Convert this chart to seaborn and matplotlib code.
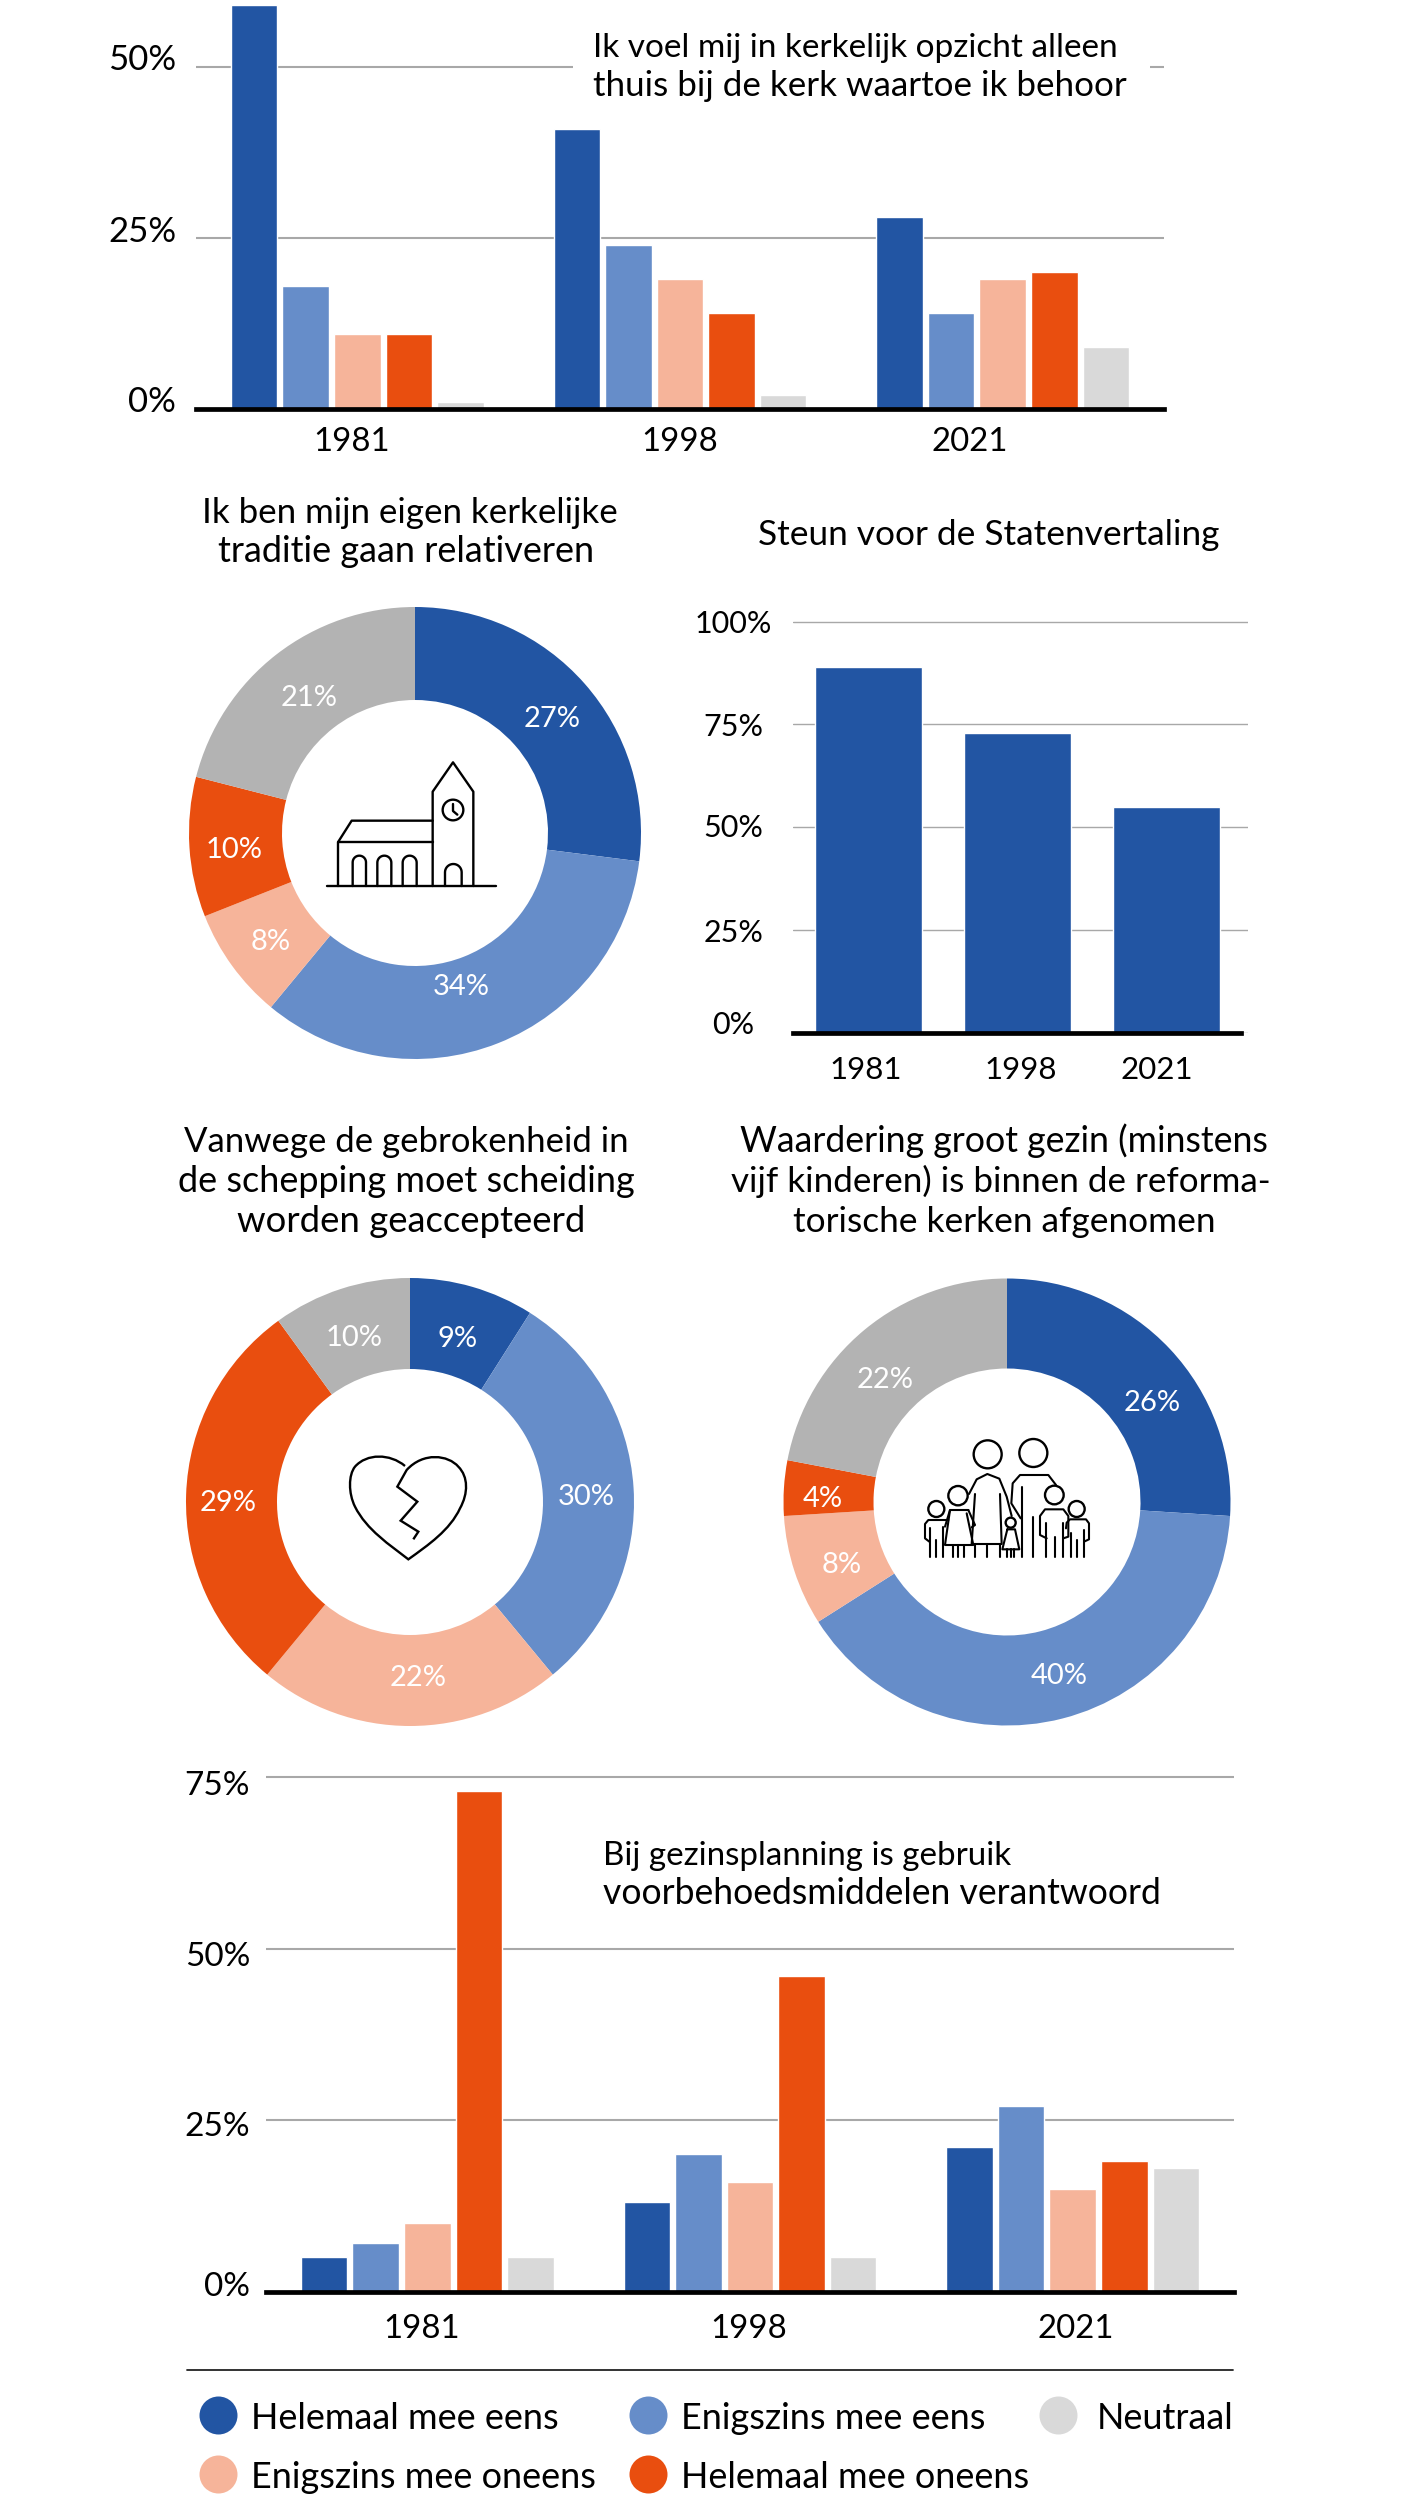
import numpy as np
import pandas as pd
import seaborn as sns
import matplotlib
matplotlib.use("Agg")
import matplotlib.pyplot as plt
from matplotlib.patches import Circle, PathPatch, Rectangle
from matplotlib.path import Path
from matplotlib.transforms import Affine2D

# data
years = ["1981", "1998", "2021"]
answers = ["Helemaal mee eens", "Enigszins mee eens", "Enigszins mee oneens",
           "Helemaal mee oneens", "Neutraal"]
thuis_1981 = [59, 18, 11, 11, 1]
thuis_1998 = [41, 24, 19, 14, 2]
thuis_2021 = [28, 14, 19, 20, 9]
plan_1981 = [5, 7, 10, 73, 5]
plan_1998 = [13, 20, 16, 46, 5]
plan_2021 = [21, 27, 15, 19, 18]
staten = [89, 73, 55]
traditie = [27, 34, 8, 10, 21]
scheiding = [9, 30, 22, 29, 10]
gezin = [26, 40, 8, 4, 22]

BLUE = "#2255A3"
LIGHT = "#668DC9"
PEACH = "#F6B49A"
ORANGE = "#E94E0F"
NEUTRAL = "#D9D9D9"
DONUT_GREY = "#B3B3B3"
GRID = "#A8A8A8"
bar_colors = [BLUE, LIGHT, PEACH, ORANGE, NEUTRAL]
donut_colors = [BLUE, LIGHT, PEACH, ORANGE, DONUT_GREY]

W, H = 1424, 2500
FS = 25.4
sns.set_theme(style="white")
plt.rcParams["font.family"] = ["Lato", "DejaVu Sans"]
fig = plt.figure(figsize=(W / 100, H / 100), dpi=100, facecolor="white")


def px_axes(left, top, right, bottom, **kw):
    return fig.add_axes([left / W, 1 - bottom / H, (right - left) / W, (bottom - top) / H], **kw)


def nudge(label, dx, dy):
    # move a tick label by pixels, y counted downward like in the picture
    label.set_transform(label.get_transform() + Affine2D().translate(dx, -dy))


def style_bar_axes(ax, ticks, tick_pad, x_pad, x_nudge, y_nudge, grid_lw, x_size, y_size):
    ax.set_xlabel("")
    ax.set_ylabel("")
    ax.set_yticks(ticks, [f"{t}%" for t in ticks])
    ax.set_axisbelow(True)
    ax.grid(axis="y", color=GRID, lw=grid_lw)
    ax.grid(axis="x", visible=False)
    for s in ["left", "right", "top"]:
        ax.spines[s].set_visible(False)
    ax.spines["bottom"].set_color("black")
    ax.spines["bottom"].set_linewidth(3.4)
    ax.tick_params(axis="both", length=0, labelcolor="black")
    ax.tick_params(axis="y", pad=tick_pad, labelsize=y_size)
    ax.tick_params(axis="x", pad=x_pad, labelsize=x_size)
    for lab, dx in zip(ax.get_xticklabels(), x_nudge):
        lab.set_va("center")
        nudge(lab, dx, 0)
    for lab, dy in zip(ax.get_yticklabels(), y_nudge):
        nudge(lab, 0, dy)


def grouped_bars(series, left, right, y0, unit, ymax, ticks, tick_pad, x_pad, x_nudge, y_nudge, y_size):
    ax = px_axes(left, y0 - unit * ymax, right, y0)
    df = pd.DataFrame({
        "jaar": np.repeat(years, len(answers)),
        "antwoord": answers * len(years),
        "pct": np.concatenate(series),
    })
    sns.barplot(data=df, x="jaar", y="pct", hue="antwoord", hue_order=answers,
                palette=bar_colors, saturation=1, width=0.8, gap=0.1, legend=False, ax=ax)
    ax.set_xlim(-0.5, 2.5)
    ax.set_ylim(0, ymax)
    style_bar_axes(ax, ticks, tick_pad, x_pad, x_nudge, y_nudge, 1.5, 23.8, y_size)
    return ax


def donut(values, cx, cy, r_out, r_in, offsets):
    pad = 1.02
    ax = px_axes(cx - r_out * pad, cy - r_out * pad, cx + r_out * pad, cy + r_out * pad)
    width = (r_out - r_in) / r_out
    wedges, _, autotexts = ax.pie(
        values, colors=donut_colors, startangle=90, counterclock=False, radius=1,
        wedgeprops=dict(width=width, edgecolor="none"),
        autopct=lambda p: f"{p:.0f}%", pctdistance=1 - width / 2,
        textprops=dict(color="white", fontsize=21))
    ax.set_xlim(-pad, pad)
    ax.set_ylim(-pad, pad)
    for txt, (dx, dy) in zip(autotexts, offsets):
        x, y = txt.get_position()
        txt.set_position((x + dx / r_out, y - (dy + 3) / r_out))
    return ax


# top chart
grouped_bars([thuis_1981, thuis_1998, thuis_2021], 196, 1164, 409, 6.84, 59.7,
             [0, 25, 50], 14.4, 24, [-5.5, -0.5, -33], [-10, -9, -10], 25)

# Statenvertaling
ax = px_axes(793, 1033 - 4.115 * 102, 1247.5, 1033)
sns.barplot(x=years, y=staten, color=BLUE, saturation=1, width=0.72, ax=ax)
ax.set_xlim((793 - 868.5) / 149, (1247.5 - 868.5) / 149)
ax.set_ylim(0, 102)
style_bar_axes(ax, [0, 25, 50, 75, 100], 43, 26.4, [-3, 3, -9.5], [-11, 0, -2, 0, 0], 1.0, 22.5, 22)
ax.spines["bottom"].set_bounds(ax.get_xlim()[0], (1241 - 868.5) / 149)
for lab in ax.get_yticklabels():
    lab.set_ha("center")

# donuts
donut(traditie, 415, 833, 226, 133, [(2, 2), (-20, -16), (1, 0), (-2, 3), (4, 4)])
donut(scheiding, 410, 1502, 224, 133, [(-2, 5), (-2, 3), (8, -5), (-3, 4), (-1, 3)])
donut(gezin, 1007, 1502, 223.5, 133.5, [(15, 20), (8, -2), (4, 5), (-6, 5), (-8, 13)])

# bottom chart
grouped_bars([plan_1981, plan_1998, plan_2021], 266, 1234, 2291.5, 6.86, 76,
             [0, 25, 50, 75], 11.5, 27, [-6, -1.5, 3], [-7, 4, 6, 6], 24)

# everything else goes on a transparent layer that is counted in picture pixels
top = fig.add_axes([0, 0, 1, 1], zorder=10)
top.set_xlim(0, W)
top.set_ylim(H, 0)
top.axis("off")
top.patch.set_alpha(0)

top.add_patch(Rectangle((573, 40), 577, 60, color="white", lw=0))


def title(x, y, txt, ha="center", size=FS):
    top.text(x, y, txt, ha=ha, va="baseline", fontsize=size, color="black")


title(593, 57, "Ik voel mij in kerkelijk opzicht alleen", "left", 24)
title(593, 96, "thuis bij de kerk waartoe ik behoor", "left", 25.2)
title(410, 523, "Ik ben mijn eigen kerkelijke", size=25.1)
title(406, 562, "traditie gaan relativeren", size=25.9)
title(989, 545, "Steun voor de Statenvertaling")
title(406, 1152, "Vanwege de gebrokenheid in", size=25)
title(406, 1192, "de schepping moet scheiding", size=25.9)
title(411, 1232, "worden geaccepteerd", size=26.3)
title(1004, 1152, "Waardering groot gezin (minstens", size=25.7)
title(1001, 1192, "vijf kinderen) is binnen de reforma-", size=25.2)
title(1004, 1232, "torische kerken afgenomen", size=25.4)
title(603, 1865, "Bij gezinsplanning is gebruik", "left", 23.9)
title(603, 1904, "voorbehoedsmiddelen verantwoord", "left", 25.6)

# legend
top.plot([187, 1233], [2370, 2370], color="#222222", lw=1.3)
legend_x = [218, 648, 1058, 218, 648]
legend_y = [2415, 2415, 2415, 2474, 2474]
legend_order = [0, 1, 4, 2, 3]
for x, y, i in zip(legend_x, legend_y, legend_order):
    top.scatter([x], [y], s=(38 * 0.72) ** 2, color=bar_colors[i], lw=0)
    tx = 1097 if i == 4 else x + 33
    top.text(tx, y + 14, answers[i], fontsize=25.9, va="baseline", color="black")


# icons
def poly(pts, org, lw=1.7):
    xs = [org[0] + p[0] / 3 for p in pts]
    ys = [org[1] + p[1] / 3 for p in pts]
    top.plot(xs, ys, color="black", lw=lw, solid_capstyle="round", solid_joinstyle="round")


def ring(x, y, r, org, lw=1.7):
    top.add_patch(Circle((org[0] + x / 3, org[1] + y / 3), r / 3, fill=False, ec="black", lw=lw))


def arch(x0, x1, ytop, ybase, org):
    m = (x0 + x1) / 2
    rad = (x1 - x0) / 2
    t = np.linspace(np.pi, 0, 20)
    xs = m + rad * np.cos(t)
    ys = ytop + rad - rad * np.sin(t)
    poly([(x0, ybase)] + list(zip(xs, ys)) + [(x1, ybase)], org)


church = (170, 590)
poly([(470, 888), (977, 888)], church)
poly([(505, 888), (505, 755), (788, 755)], church)
poly([(505, 755), (545, 692), (788, 692)], church)
poly([(788, 888), (788, 605), (849, 517), (910, 605), (910, 888)], church)
ring(849, 660, 31, church)
poly([(849, 642), (849, 663), (862, 674)], church)
for x0, x1 in [(548, 588), (622, 664), (698, 740)]:
    arch(x0, x1, 797, 888, church)
arch(825, 875, 822, 888, church)

heart = (170, 1270)
heart_verts = [(705, 588), (660, 550), (590, 550), (555, 590), (535, 615), (535, 670), (555, 710),
               (590, 780), (660, 825), (715, 868), (775, 825), (840, 780), (870, 715),
               (895, 670), (895, 620), (865, 590), (835, 555), (760, 545), (710, 600),
               (682, 650), (742, 695), (692, 752), (745, 785), (730, 808)]
heart_codes = [Path.MOVETO] + [Path.CURVE4] * 18 + [Path.LINETO] * 5
top.add_patch(PathPatch(Path([(heart[0] + x / 3, heart[1] + y / 3) for x, y in heart_verts], heart_codes),
                        fill=False, ec="black", lw=1.7))

fam = (770, 1270)
for x, y, r in [(653, 553, 42), (790, 549, 42), (564, 677, 29), (499, 717, 24),
                (853, 675, 28), (920, 717, 24), (722, 758, 15)]:
    ring(x, y, r, fam)
family_lines = [
    # mother
    [(597, 672), (620, 628), (652, 612), (688, 626), (710, 680), (725, 738)],
    [(615, 672), (605, 822), (695, 822), (690, 672)],
    [(615, 822), (615, 862)], [(652, 822), (652, 862)], [(690, 822), (690, 862)],
    # father
    [(752, 745), (724, 700), (728, 640), (750, 615), (835, 615), (858, 645)],
    [(755, 650), (755, 862)], [(790, 740), (790, 862)],
    # girl
    [(595, 720), (540, 720), (525, 825), (610, 825), (590, 730)],
    [(595, 720), (615, 765), (605, 772)], [(540, 720), (525, 770)],
    [(550, 825), (550, 862)], [(565, 825), (565, 862)], [(582, 825), (582, 862)],
    # boy left
    [(535, 750), (475, 750), (465, 762), (465, 805), (478, 815)],
    [(480, 775), (480, 862)], [(498, 810), (498, 862)], [(520, 770), (520, 862)],
    # boy right
    [(830, 805), (810, 795), (810, 738), (825, 718), (880, 718), (895, 738), (895, 800), (880, 805)],
    [(828, 760), (828, 862)], [(855, 800), (855, 862)], [(880, 760), (880, 862)],
    # kid right
    [(888, 775), (890, 758), (900, 748), (948, 748), (957, 760), (957, 808), (942, 815)],
    [(903, 790), (903, 862)], [(920, 810), (920, 862)], [(942, 780), (942, 862)],
    # baby
    [(712, 778), (735, 778), (748, 838), (697, 838), (712, 778)],
    [(710, 838), (710, 860)], [(722, 838), (722, 860)], [(733, 838), (733, 860)],
]
for line in family_lines:
    poly(line, fam, lw=1.5)

fig.savefig("out.png", dpi=100)
